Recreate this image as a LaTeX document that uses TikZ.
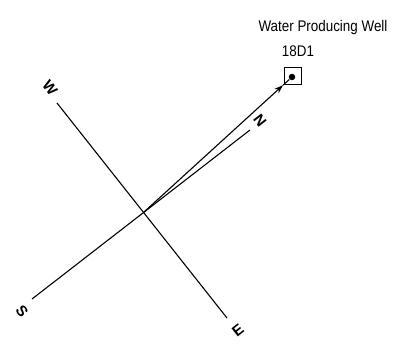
\documentclass[tikz,border=0pt]{standalone}
\usepackage{fontspec}
\setmainfont{Liberation Sans}
\usetikzlibrary{arrows.meta,calc}
\begin{document}
\begin{tikzpicture}[x=1pt, y=-1pt, line width=1.1pt,
    axislbl/.style={font=\bfseries\fontsize{15}{15}\selectfont, inner sep=0pt},
    welltxt/.style={font=\fontsize{13.4}{15}\selectfont, inner sep=0pt, yscale=1.15}]
        \useasboundingbox (0,0) rectangle (404,348);
        \coordinate (c) at (144,212);
        \foreach \name/\ex/\ey/\lx/\ly/\rot in {N/250/130/260/121/-52,S/32/299/22/311/-52,W/57/103/50/88/-52,E/227/318/238/330/38} {
            \coordinate (end\name) at (\ex,\ey);
            \node[axislbl, rotate=\rot] (lbl\name) at (\lx,\ly) {\name};
        }
        \draw (endW) -- (endE);
        \draw (endS) -- (endN);
        \node[draw, line width=1.6pt, minimum size=17pt, inner sep=0pt] (well) at (293,76) {};
        \node[circle, fill, inner sep=0pt, minimum size=6.5pt] (dot) at (292,77) {};
        \coordinate (tip) at ($(c)!0.94!(dot)$);
        \draw[-{Stealth[length=9pt,width=6pt]}] (c) -- (tip);
        \draw (tip) -- (dot);
        \node[welltxt] (title) at (323,28) {Water Producing Well};
        \node[welltxt] (wellid) at (298,51) {18D1};
    \end{tikzpicture}
\end{document}
